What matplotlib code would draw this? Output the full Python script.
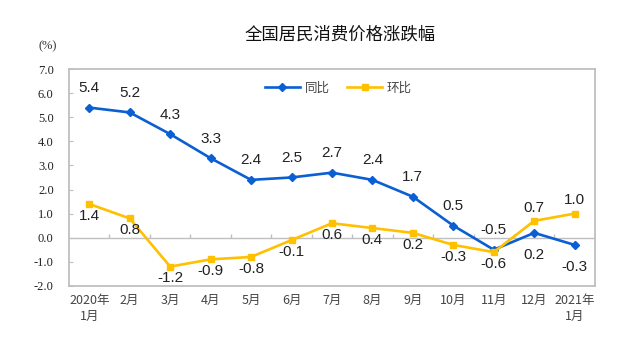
import matplotlib
matplotlib.use("Agg")
import matplotlib.pyplot as plt
import numpy as np

months = ["2020年\n1月", "2月", "3月", "4月", "5月", "6月", "7月", "8月", "9月",
          "10月", "11月", "12月", "2021年\n1月"]
yoy = [5.4, 5.2, 4.3, 3.3, 2.4, 2.5, 2.7, 2.4, 1.7, 0.5, -0.5, 0.2, -0.3]
mom = [1.4, 0.8, -1.2, -0.9, -0.8, -0.1, 0.6, 0.4, 0.2, -0.3, -0.6, 0.7, 1.0]
yoy_label_pos = ["above"] * 11 + ["below", "below"]
mom_label_pos = ["below"] * 11 + ["above", "above"]

plt.rcParams['font.family'] = ['Noto Sans CJK SC', 'DejaVu Sans']

BLUE = "#0A5FD2"
YELLOW = "#FFC000"
GRAY = "#BFBFBF"

fig = plt.figure(figsize=(6.39, 3.56), dpi=100)
ax = fig.add_axes([0.108, 0.197, 0.823, 0.609])

x = np.arange(len(months))
ax.plot(x, yoy, color=BLUE, lw=1.9, marker="D", ms=4.5, label="同比")
ax.plot(x, mom, color=YELLOW, lw=1.9, marker="s", ms=4.5, label="环比")

for xi, v, p in zip(x, yoy, yoy_label_pos):
    off = 14 if p == "above" else -16
    ax.annotate(f"{v:.1f}", (xi, v), xytext=(0, off), textcoords="offset points",
                ha="center", va="center",
                fontsize=11, family="Liberation Sans", color="#222222")
for xi, v, p in zip(x, mom, mom_label_pos):
    off = 9.5 if p == "above" else -8.5
    ax.annotate(f"{v:.1f}", (xi, v), xytext=(0, off), textcoords="offset points",
                ha="center", va="center",
                fontsize=11, family="Liberation Sans", color="#222222")

ax.set_xlim(-0.5, len(months) - 0.5)
ax.set_ylim(-2.0, 7.0)
ax.set_yticks(np.arange(-2, 7.01, 1.0))
ax.set_yticklabels([f"{v:.1f}" for v in np.arange(-2, 7.01, 1.0)],
                   family="Liberation Serif", fontsize=9, color="#222222")
ax.set_xticks(x)
ax.set_xticklabels(months, fontsize=9, color="#444444", linespacing=1.3)
ax.tick_params(axis="x", length=0, pad=6)
ax.tick_params(axis="y", direction="in", length=3, color=GRAY, pad=11)

ax.axhline(0, color=GRAY, lw=1, zorder=1)
ax.vlines(np.arange(0.5, len(months) - 0.5, 1.0), 0, 0.15, color=GRAY, lw=1, zorder=1)

for s in ax.spines.values():
    s.set_color(GRAY)
    s.set_linewidth(1.3)

fig.text(0.532, 0.902, "全国居民消费价格涨跌幅", ha="center", va="center",
         fontsize=12.5, color="#111111")
fig.text(0.075, 0.87, "(%)", ha="center", va="center", fontsize=9,
         family="Liberation Serif", color="#333333")

leg = ax.legend(loc="upper center", bbox_to_anchor=(0.512, 0.995), ncol=2, frameon=False,
                fontsize=9, handlelength=2.8, columnspacing=1.4, handletextpad=0.4)
for t in leg.get_texts():
    t.set_color("#444444")

fig.savefig("out.png", dpi=100)
